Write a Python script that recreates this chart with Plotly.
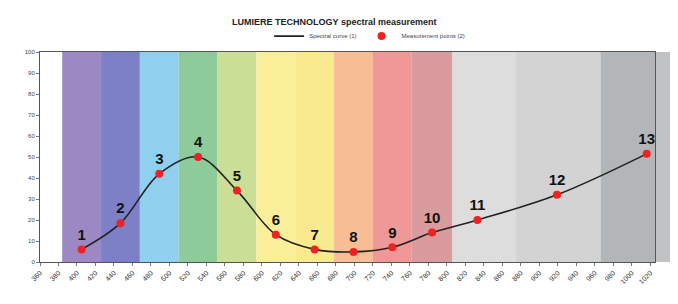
import plotly.graph_objects as go

# ---- data ----
wavelength_ticks = list(range(360, 1021, 20))
tick_labels = [str(v) for v in wavelength_ticks]

point_labels = ["1", "2", "3", "4", "5", "6", "7", "8", "9", "10", "11", "12", "13"]
point_x = [405, 447, 489, 531, 573, 615, 657, 699, 741, 784, 833, 919, 1016]
point_y = [6, 18.5, 42, 50, 34, 13, 6, 4.8, 7, 14, 20, 32, 51.5]

band_edges = [384, 426, 468, 510, 552, 594, 636, 678, 720, 762, 806, 874, 966, 1025]
band_colors = ["#9c89c4", "#7d80c7", "#8ed0ee", "#8dcb9b", "#cade95", "#f9ef99",
               "#f9e98f", "#f7bd95", "#f09797", "#d99b9d", "#dcdddc", "#d2d3d2", "#b3b6b8"]

fig = go.Figure()

fig.add_trace(go.Scatter(
    x=point_x, y=point_y, mode="lines",
    line=dict(color="#222222", width=1.6, shape="spline", smoothing=1.0),
    name="Spectral curve (1)", showlegend=True,
))
fig.add_trace(go.Scatter(
    x=point_x, y=point_y, mode="markers+text",
    marker=dict(color="#ee2222", size=8),
    text=point_labels, textposition="top center",
    textfont=dict(family="Liberation Sans, Arial", size=15, color="#111111", weight="bold"),
    name="Measurement points (2)", showlegend=True,
))

shapes = []
for i, c in enumerate(band_colors):
    shapes.append(dict(type="rect", xref="x", yref="paper",
                       x0=band_edges[i], x1=band_edges[i + 1], y0=0, y1=1,
                       fillcolor=c, line=dict(width=0), layer="below"))
# gray continuation right of plot
shapes.append(dict(type="rect", xref="paper", yref="paper", x0=1, x1=1.025, y0=0, y1=1,
                   fillcolor="#c0c2c3", line=dict(width=0), layer="below"))

fig.update_layout(
    width=670, height=296,
    margin=dict(l=32, r=23, t=44, b=42, autoexpand=False),
    paper_bgcolor="white", plot_bgcolor="white",
    shapes=shapes,
    title=dict(text="<b>LUMIERE TECHNOLOGY spectral measurement</b>",
               x=0.487, xanchor="center", y=0.953, yanchor="middle",
               font=dict(family="Liberation Sans, Arial", size=9, color="#222222")),
    legend=dict(orientation="h", x=0.536, xanchor="center", yref="container", y=0.905, yanchor="middle",
                font=dict(family="Liberation Sans, Arial", size=6, color="#444444"),
                bgcolor="rgba(0,0,0,0)"),
    font=dict(family="Liberation Sans, Arial"),
)

fig.update_xaxes(
    range=[360, 1025], tickmode="array", tickvals=wavelength_ticks, ticktext=tick_labels,
    tickangle=-45, tickfont=dict(size=7, color="#333333"), automargin=False,
    showgrid=False, zeroline=False, showline=True, linecolor="#555555", linewidth=1,
    mirror=True, ticks="outside", ticklen=3, tickcolor="#777777",
)
fig.update_yaxes(
    range=[0, 100], tickmode="array", tickvals=list(range(0, 101, 10)),
    tickfont=dict(size=6, color="#444444"), automargin=False,
    showgrid=False, zeroline=False, showline=True, linecolor="#555555", linewidth=1,
    mirror=True, ticks="outside", ticklen=3, tickcolor="#777777",
)

fig.write_html("out.html")
